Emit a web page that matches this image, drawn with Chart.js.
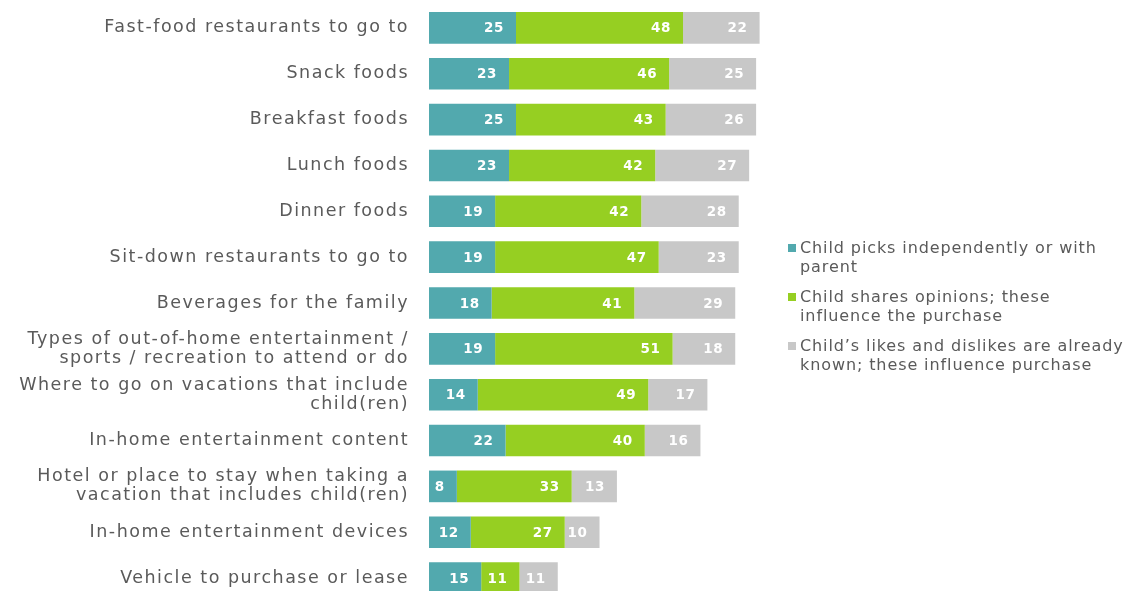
<!DOCTYPE html>
<html>
<head>
<meta charset="utf-8">
<script src="https://cdn.jsdelivr.net/npm/chart.js@4.4.1/dist/chart.umd.min.js"></script>
<style>
  body { margin: 0; background: #fff; overflow: hidden; }
  #wrap { position: relative; width: 1125px; height: 606px; }
  #legenda { position: absolute; left: 788px; top: 238px; white-space: nowrap; font-family: "DejaVu Sans", sans-serif; font-size: 16px; letter-spacing: 0.9px; line-height: 19px; color: #5a5a5a; }
  .item { position: relative; padding-left: 12px; margin-bottom: 11px; }
  .item span.box { position: absolute; left: 0; top: 6px; width: 8px; height: 8px; }
</style>
</head>
<body>
<div id="wrap">
  <canvas id="grafico" width="1125" height="606"></canvas>
  <div id="legenda"></div>
</div>
<script>
var categorias = [
  "Fast-food restaurants to go to",
  "Snack foods",
  "Breakfast foods",
  "Lunch foods",
  "Dinner foods",
  "Sit-down restaurants to go to",
  "Beverages for the family",
  ["Types of out-of-home entertainment /", "sports / recreation to attend or do"],
  ["Where to go on vacations that include", "child(ren)"],
  "In-home entertainment content",
  ["Hotel or place to stay when taking a", "vacation that includes child(ren)"],
  "In-home entertainment devices",
  "Vehicle to purchase or lease"
];

var escolheSozinho = [25, 23, 25, 23, 19, 19, 18, 19, 14, 22, 8, 12, 15];
var compartilhaOpiniao = [48, 46, 43, 42, 42, 47, 41, 51, 49, 40, 33, 27, 11];
var gostosConhecidos = [22, 25, 26, 27, 28, 23, 29, 18, 17, 16, 13, 10, 11];

var nomesSeries = [
  ["Child picks independently or with", "parent"],
  ["Child shares opinions; these", "influence the purchase"],
  ["Child\u2019s likes and dislikes are already", "known; these influence purchase"]
];
var cores = ["#52a9ae", "#96cf22", "#c8c8c8"];

// texto mais espaçado nos rótulos do eixo
var espacamento = {
  id: 'espacamento',
  beforeDraw: function(chart) { chart.ctx.letterSpacing = '1.5px'; },
  afterDraw: function(chart) { chart.ctx.letterSpacing = '0px'; }
};

// escreve o valor de cada segmento perto da ponta direita dele
var rotulosBarras = {
  id: 'rotulosBarras',
  afterDatasetsDraw: function(chart) {
    var ctx = chart.ctx;
    ctx.save();
    ctx.letterSpacing = '0.6px';
    ctx.font = 'bold 13.5px "DejaVu Sans", sans-serif';
    ctx.fillStyle = '#ffffff';
    ctx.textAlign = 'right';
    ctx.textBaseline = 'middle';
    chart.data.datasets.forEach(function(ds, i) {
      chart.getDatasetMeta(i).data.forEach(function(barra, j) {
        ctx.fillText(ds.data[j], barra.x - 12, barra.y + 1);
      });
    });
    ctx.restore();
  }
};

new Chart(document.getElementById("grafico"), {
  type: 'bar',
  data: {
    labels: categorias,
    datasets: [
      { label: nomesSeries[0].join(' '), data: escolheSozinho, backgroundColor: cores[0] },
      { label: nomesSeries[1].join(' '), data: compartilhaOpiniao, backgroundColor: cores[1] },
      { label: nomesSeries[2].join(' '), data: gostosConhecidos, backgroundColor: cores[2] }
    ]
  },
  plugins: [espacamento, rotulosBarras],
  options: {
    indexAxis: 'y',
    responsive: false,
    animation: false,
    layout: { padding: { top: 5, bottom: 5, right: 348 } },
    datasets: { bar: { categoryPercentage: 1, barPercentage: 0.69, borderWidth: 0 } },
    plugins: {
      legend: { display: false },
      tooltip: { enabled: false }
    },
    scales: {
      x: {
        stacked: true,
        min: 0,
        max: 100,
        display: false
      },
      y: {
        stacked: true,
        afterFit: function(scale) {
          scale.width = 429;
          scale.paddingTop = 0;
          scale.paddingBottom = 0;
        },
        grid: { display: false, drawTicks: false },
        border: { display: false },
        ticks: {
          padding: 20,
          color: '#5a5a5a',
          font: { family: '"DejaVu Sans", sans-serif', size: 17.5, lineHeight: 1.08 }
        }
      }
    }
  }
});

// legenda em html, com quebra de linha manual
var legenda = document.getElementById('legenda');
nomesSeries.forEach(function(linhas, i) {
  var item = document.createElement('div');
  item.className = 'item';
  item.innerHTML = '<span class="box" style="background:' + cores[i] + '"></span>' + linhas.join('<br>');
  legenda.appendChild(item);
});
</script>
</body>
</html>
